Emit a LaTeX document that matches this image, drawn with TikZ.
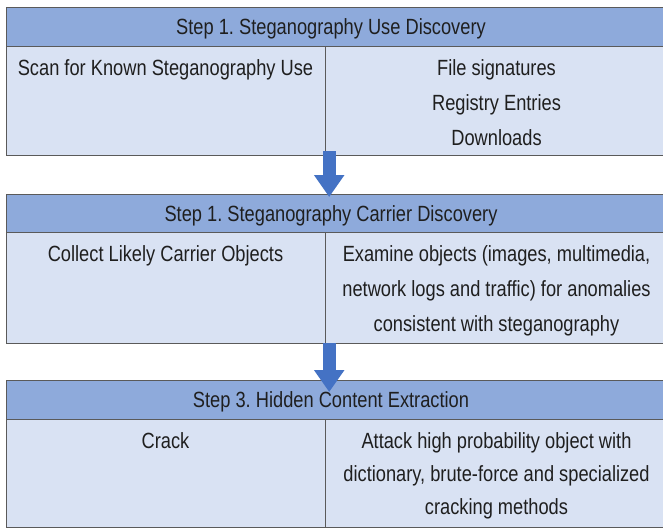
\documentclass[tikz,border=0pt]{standalone}
\usepackage{fontspec}
\setmainfont{Liberation Sans}[FakeStretch=0.83]
\frenchspacing
\usetikzlibrary{arrows.meta,calc}
\definecolor{hdrblue}{HTML}{8EAADB}
\definecolor{cellblue}{HTML}{D9E2F3}
\definecolor{arrowblue}{HTML}{4472C4}
\definecolor{bordergray}{HTML}{5A5A5A}
\definecolor{txtgray}{HTML}{1F1F1F}
\begin{document}
\begin{tikzpicture}[x=1pt,y=-1pt,
  hdr/.style={draw=bordergray,line width=1.2pt,fill=hdrblue,anchor=north west,minimum width=662pt,inner sep=0pt},
  cellbox/.style={draw=bordergray,line width=1.2pt,fill=cellblue,anchor=north west,inner sep=0pt},
  txt/.style={text=txtgray,font=\fontsize{22}{35}\selectfont,align=center,anchor=base,inner sep=0pt},
  txtc/.style={txt,font=\fontsize{22}{33}\selectfont},
  flow/.style={draw=arrowblue,line width=13pt,-{Triangle[width=29pt,length=22pt,fill=arrowblue]}}]
\clip (0,0) rectangle (663,528);
\fill[white] (0,0) rectangle (663,528);
% Box 1
\node[hdr,minimum height=39pt] (H1) at (6,7) {};
\node[cellbox,minimum width=319pt,minimum height=109pt] (L1) at (6,46) {};
\node[cellbox,minimum width=343pt,minimum height=109pt] (R1) at (325,46) {};
\node[txt] (H1t) at (331,34.5) {Step 1. Steganography Use Discovery};
\node[txt] (L1t) at (165.5,75) {Scan for Known Steganography Use};
\node[txt] (R1t) at (496.5,145) {File signatures\\Registry Entries\\Downloads};
% Box 2
\node[hdr,minimum height=38pt] (H2) at (6,194) {};
\node[cellbox,minimum width=319pt,minimum height=111pt] (L2) at (6,232) {};
\node[cellbox,minimum width=343pt,minimum height=111pt] (R2) at (325,232) {};
\node[txt] (H2t) at (331,221) {Step 1. Steganography Carrier Discovery};
\node[txt] (L2t) at (165.5,261) {Collect Likely Carrier Objects};
\node[txt] (R2t) at (496.5,331) {Examine objects (images, multimedia,\\network logs and traffic) for anomalies\\consistent with steganography};
% Box 3
\node[hdr,minimum height=39pt] (H3) at (6,380) {};
\node[cellbox,minimum width=319pt,minimum height=108pt] (L3) at (6,419) {};
\node[cellbox,minimum width=343pt,minimum height=108pt] (R3) at (325,419) {};
\node[txt] (H3t) at (331,407.5) {Step 3. Hidden Content Extraction};
\node[txt] (L3t) at (165.5,448) {Crack};
\node[txtc] (R3t) at (496.5,514) {Attack high probability object with\\dictionary, brute-force and specialized\\cracking methods};
% Arrows
\draw[flow] ($(L1.south east)+(3pt,5pt)$) -- ($(L1.south east |- H2.north)+(3pt,-3pt)$);
\draw[flow] ($(L2.south east)+(3pt,1pt)$) -- ($(L2.south east |- H3.north)+(3pt,-12pt)$);
\end{tikzpicture}
\end{document}
